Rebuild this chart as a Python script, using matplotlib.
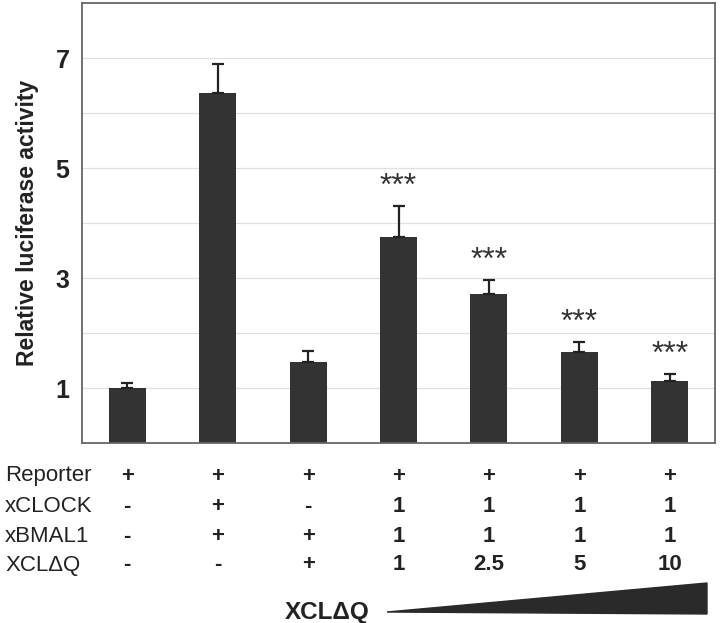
import numpy as np
import matplotlib
matplotlib.use("Agg")
import matplotlib.pyplot as plt
from matplotlib.patches import Polygon
import matplotlib.transforms as mtransforms

plt.rcParams['font.family'] = ['Liberation Sans', 'DejaVu Sans']

# bar data
activity = [1.0, 6.36, 1.47, 3.75, 2.71, 1.66, 1.12]
err_up = [0.10, 0.53, 0.21, 0.56, 0.26, 0.18, 0.13]
signif = ['', '', '', '***', '***', '***', '***']

# transfection table below the bars
row_names = ['Reporter', 'xCLOCK', 'xBMAL1', 'XCL\u0394Q']
reporter = ['+', '+', '+', '+', '+', '+', '+']
xclock = ['-', '+', '-', '1', '1', '1', '1']
xbmal1 = ['-', '+', '+', '1', '1', '1', '1']
xcldq = ['-', '-', '+', '1', '2.5', '5', '10']
table_rows = [reporter, xclock, xbmal1, xcldq]

W, H = 720, 623
fig = plt.figure(figsize=(W / 100, H / 100), dpi=100)
ax = fig.add_axes([82 / W, 1 - 443 / H, (715 - 82) / W, (443 - 3) / H])

x = np.arange(len(activity))
ax.set_axisbelow(True)
ax.yaxis.grid(True, color='#e0e0e0', linewidth=0.9)
ax.bar(x, activity, width=0.41, color='#333333', zorder=2)
ax.errorbar(x, activity, yerr=[np.zeros(len(err_up)), err_up], fmt='none',
            ecolor='#222222', elinewidth=1.6, capsize=4.5, capthick=1.6, zorder=3)

for i, s in enumerate(signif):
    if s:
        ax.text(x[i], activity[i] + err_up[i] + 0.2, s, ha='center', va='baseline',
                fontsize=23, color='#333333')

ax.set_xlim(-0.5, len(activity) - 0.5)
ax.set_ylim(0, 8)
ax.set_yticks(np.arange(1, 8))
ax.set_yticklabels(['1', '', '3', '', '5', '', '7'], fontsize=18, fontweight='bold')
ax.tick_params(axis='y', length=0, pad=9, colors='#222222')
ax.set_xticks([])
for sp in ax.spines.values():
    sp.set_color('#666666')
    sp.set_linewidth(1.3)
ax.set_ylabel('Relative luciferase activity', fontsize=16.5, fontweight='bold',
              color='#222222')
ax.yaxis.set_label_coords(-0.068, 0.5)

# table text: x in data units, y in figure units
trans = mtransforms.blended_transform_factory(ax.transData, fig.transFigure)
row_y = [476, 507, 537, 565]
for name, vals, ypix in zip(row_names, table_rows, row_y):
    yf = 1 - ypix / H
    fig.text(5 / W, yf, name, fontsize=16, ha='left', va='center', color='#222222')
    for i, v in enumerate(vals):
        ax.text(x[i], yf, v, transform=trans, ha='center', va='center',
                fontsize=16, fontweight='bold', color='#222222', clip_on=False)

# dose wedge
fig.text(285 / W, 1 - 612 / H, 'XCL\u0394Q', fontsize=17.5, fontweight='bold',
         ha='left', va='center', color='#222222')
wedge = Polygon([(387 / W, 1 - 612 / H), (707 / W, 1 - 583 / H), (707 / W, 1 - 614 / H)],
                closed=True, transform=fig.transFigure, facecolor='#2a2a2a',
                edgecolor='#2a2a2a')
fig.patches.append(wedge)

fig.savefig('out.png', dpi=100)
